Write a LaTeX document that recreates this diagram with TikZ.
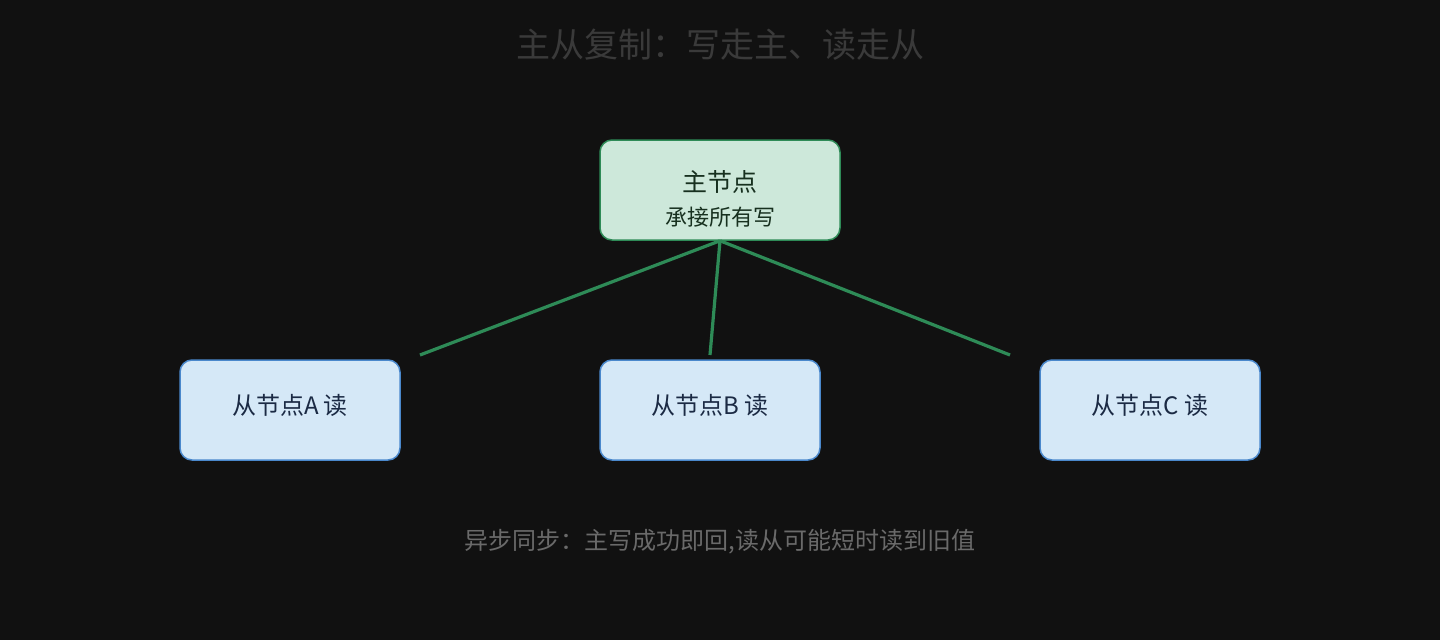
\documentclass[tikz,border=0pt]{standalone}
\usepackage{fontspec}
\setmainfont{Noto Sans CJK SC}
\usepackage{xcolor}
\usetikzlibrary{arrows}
\definecolor{bgdark}{HTML}{111111}
\definecolor{titlegray}{HTML}{3A3A3A}
\definecolor{notegray}{HTML}{6A6A6A}
\definecolor{linkgreen}{HTML}{2E8B57}
\definecolor{masterfill}{HTML}{CDE8DA}
\definecolor{mastertext}{HTML}{17301F}
\definecolor{slavefill}{HTML}{D5E8F7}
\definecolor{slaveedge}{HTML}{4A88CC}
\definecolor{slavetext}{HTML}{1B2A44}
\tikzset{
	master node/.style={rectangle,rounded corners=12pt,draw=linkgreen,fill=masterfill,line width=1.5pt,
		minimum width=240pt,minimum height=100pt,align=center,text=mastertext},
	slave node/.style={rectangle,rounded corners=12pt,draw=slaveedge,fill=slavefill,line width=1.5pt,
		minimum width=220pt,minimum height=100pt,text height=16pt,text depth=8pt,
		text=slavetext,font=\fontsize{24}{28}\selectfont},
	link/.style={draw=linkgreen,line width=3.2pt}
}

\begin{document}
\begin{tikzpicture}[x=1pt,y=-1pt]
      \fill[bgdark] (0,0) rectangle (1440,640);
      \useasboundingbox (0,0) rectangle (1440,640);

      \node[text=titlegray,font=\fontsize{34}{40}\selectfont] (title) at (720,45) {主从复制：写走主、读走从};

      \node[master node] (master) at (720,190) {};
      \node[text=mastertext,font=\fontsize{25}{30}\selectfont] (mastername) at (720,182) {主节点};
      \node[text=mastertext,font=\fontsize{22}{26}\selectfont] (masterrole) at (720,217) {承接所有写};

      \node[slave node] (slaveA) at (290,410) {从节点A 读};
      \node[slave node] (slaveB) at (710,410) {从节点B 读};
      \node[slave node] (slaveC) at (1150,410) {从节点C 读};

      \coordinate (endA) at (420,355);
      \coordinate (endB) at (710,355);
      \coordinate (endC) at (1010,355);

      \path[link]
        (master.south) edge (endA)
        (master.south) edge (endB)
        (master.south) edge (endC);

      \node[text=notegray,font=\fontsize{24}{28}\selectfont] (note) at (720,542) {异步同步：主写成功即回,读从可能短时读到旧值};
    \end{tikzpicture}
\end{document}
